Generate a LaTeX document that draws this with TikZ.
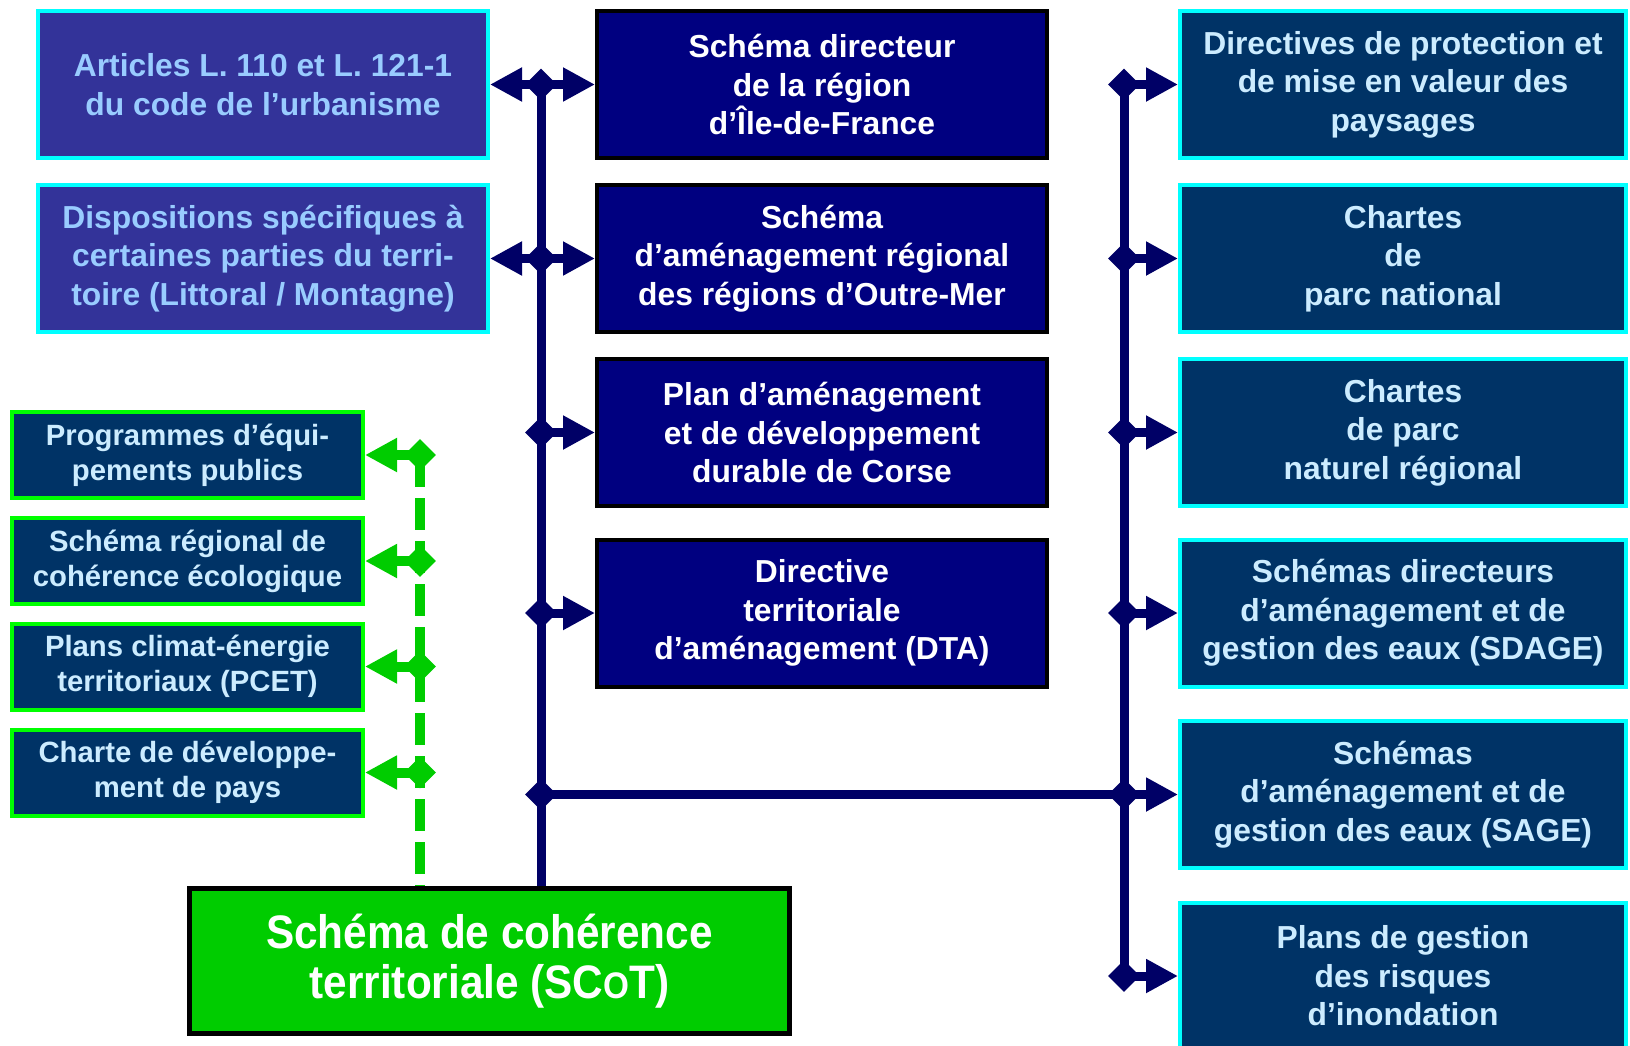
\documentclass[tikz,border=0pt]{standalone}
\usepackage{fontspec}
\setmainfont{Liberation Sans}
\newfontfamily\scotfont{Liberation Sans}[FakeStretch=0.9]
\usetikzlibrary{arrows.meta,shapes.geometric}

\definecolor{linknavy}{HTML}{000066}
\definecolor{navyfill}{HTML}{000080}
\definecolor{purplefill}{HTML}{333399}
\definecolor{deepblue}{HTML}{003366}
\definecolor{cyanedge}{HTML}{00FFFF}
\definecolor{paleblue}{HTML}{99CCFF}
\definecolor{iceblue}{HTML}{CCECFF}
\definecolor{brightgreen}{HTML}{00FF00}
\definecolor{scotgreen}{HTML}{00CC00}

\begin{document}
\begin{tikzpicture}[x=1pt, y=-1pt,
		box/.style={draw, line width=4pt, align=center, inner sep=0pt,
			minimum height=147pt, font=\bfseries\fontsize{31.8}{38.5}\selectfont},
		refbox/.style={box, draw=cyanedge, fill=purplefill, text=paleblue, minimum width=450pt},
		mainbox/.style={box, draw=black, fill=navyfill, text=white, minimum width=450pt},
		sidebox/.style={box, draw=cyanedge, fill=deepblue, text=iceblue, minimum width=446pt},
		greenbox/.style={box, draw=brightgreen, fill=deepblue, text=iceblue,
			minimum width=351pt, minimum height=86pt, font=\bfseries\fontsize{29.3}{35}\selectfont},
		scotbox/.style={draw=black, line width=5pt, fill=scotgreen, text=white, align=center,
			minimum width=600pt, minimum height=145pt, inner sep=0pt,
			font=\scotfont\bfseries\fontsize{47}{50}\selectfont},
		jdot/.style={diamond, fill=linknavy, inner sep=0pt, minimum size=32pt},
		gdot/.style={diamond, fill=scotgreen, inner sep=0pt, minimum size=32pt},
		link/.style={draw=linknavy, line width=9pt},
		glink/.style={draw=scotgreen, line width=10pt},
		tip/.style={-{Triangle[length=32pt,width=32pt]}},
		bothtips/.style={{Triangle[length=32pt,width=32pt]}-{Triangle[length=32pt,width=32pt]}},
	]
	\clip (0,0) rectangle (1630,1045);

	% reference texts
	\node[refbox] (articles) at (263,84.5) {Articles L. 110 et L. 121-1\\du code de l’urbanisme};
	\node[refbox] (dispo) at (263,258.5) {Dispositions spécifiques à\\certaines parties du terri-\\toire (Littoral / Montagne)};

	% regional plans
	\node[mainbox] (sdrif) at (822,84.5) {Schéma directeur\\de la région\\d’Île-de-France};
	\node[mainbox] (sar) at (822,258.5) {Schéma\\d’aménagement régional\\des régions d’Outre-Mer};
	\node[mainbox] (padduc) at (822,432.5) {Plan d’aménagement\\et de développement\\durable de Corse};
	\node[mainbox] (dta) at (822,613) {Directive\\territoriale\\d’aménagement (DTA)};

	% documents on the right
	\node[sidebox] (paysages) at (1403,84.5) {Directives de protection et\\de mise en valeur des\\paysages};
	\node[sidebox] (pnat) at (1403,258.5) {Chartes\\de\\parc national};
	\node[sidebox] (pnr) at (1403,432.5) {Chartes\\de parc\\naturel régional};
	\node[sidebox] (sdage) at (1403,613) {Schémas directeurs\\d’aménagement et de\\gestion des eaux (SDAGE)};
	\node[sidebox] (sage) at (1403,794.5) {Schémas\\d’aménagement et de\\gestion des eaux (SAGE)};
	\node[sidebox] (pgri) at (1403,976) {Plans de gestion\\des risques\\d’inondation};

	% documents taken into account
	\node[greenbox] (prog) at (187.5,455) {Programmes d’équi-\\pements publics};
	\node[greenbox] (srce) at (187.5,561) {Schéma régional de\\cohérence écologique};
	\node[greenbox] (pcet) at (187.5,666.5) {Plans climat-énergie\\territoriaux (PCET)};
	\node[greenbox] (pays) at (187.5,772.5) {Charte de développe-\\ment de pays};

	\node[scotbox] (scot) at (489.5,961) {Schéma de cohérence\\territoriale (SC{\fontsize{37}{50}\selectfont O}T)};

	\coordinate (trunkL) at (541,0);
	\coordinate (trunkR) at (1124,0);
	\coordinate (trunkG) at (420,0);

	% left trunk
	\draw[link] (trunkL |- sdrif.west) -- (trunkL |- scot.north);
	\node[jdot] (jL1) at (trunkL |- sdrif.west) {};
	\node[jdot] (jL2) at (trunkL |- sar.west) {};
	\node[jdot] (jL3) at (trunkL |- padduc.west) {};
	\node[jdot] (jL4) at (trunkL |- dta.west) {};
	\node[jdot] (jL5) at (trunkL |- sage.west) {};
	\draw[link, bothtips] (articles.east) -- (sdrif.west);
	\draw[link, bothtips] (dispo.east) -- (sar.west);
	\draw[link, tip] (jL3.center) -- (padduc.west);
	\draw[link, tip] (jL4.center) -- (dta.west);

	% right trunk
	\draw[link] (trunkR |- paysages.west) -- (trunkR |- pgri.west);
	\node[jdot] (jR1) at (trunkR |- paysages.west) {};
	\node[jdot] (jR2) at (trunkR |- pnat.west) {};
	\node[jdot] (jR3) at (trunkR |- pnr.west) {};
	\node[jdot] (jR4) at (trunkR |- sdage.west) {};
	\node[jdot] (jR5) at (trunkR |- sage.west) {};
	\node[jdot] (jR6) at (trunkR |- pgri.west) {};
	\draw[link, tip] (jR1.center) -- (paysages.west);
	\draw[link, tip] (jR2.center) -- (pnat.west);
	\draw[link, tip] (jR3.center) -- (pnr.west);
	\draw[link, tip] (jR4.center) -- (sdage.west);
	\draw[link, tip] (jL5.center) -- (sage.west);
	\draw[link, tip] (jR6.center) -- (pgri.west);

	% green dashed trunk
	\draw[glink, dash pattern=on 32pt off 11pt] (trunkG |- prog.east) -- (trunkG |- scot.north);
	\node[gdot] (jG1) at (trunkG |- prog.east) {};
	\node[gdot] (jG2) at (trunkG |- srce.east) {};
	\node[gdot] (jG3) at (trunkG |- pcet.east) {};
	\node[gdot] (jG4) at (trunkG |- pays.east) {};
	\draw[glink, tip] (jG1.center) -- (prog.east);
	\draw[glink, tip] (jG2.center) -- (srce.east);
	\draw[glink, tip] (jG3.center) -- (pcet.east);
	\draw[glink, tip] (jG4.center) -- (pays.east);
\end{tikzpicture}
\end{document}
